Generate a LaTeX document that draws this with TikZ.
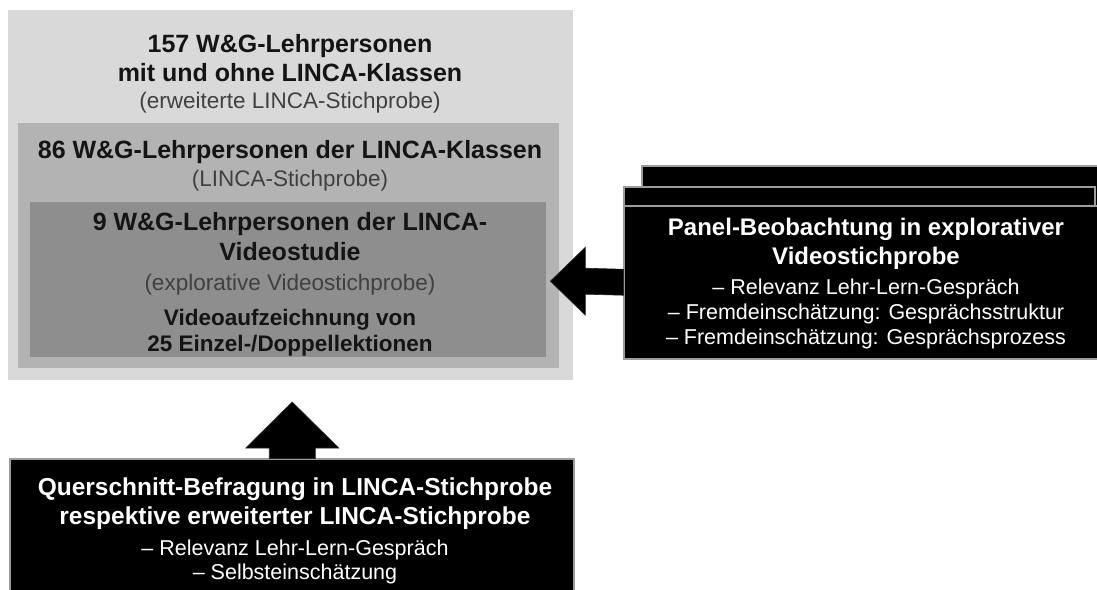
\documentclass[tikz,border=0pt]{standalone}
\usepackage{fontspec}
\setmainfont{Liberation Sans}
\usetikzlibrary{calc}
\definecolor{outerg}{HTML}{D9D9D9}
\definecolor{midg}{HTML}{B3B3B3}
\definecolor{innerg}{HTML}{8E8E8E}
\definecolor{edgeg}{HTML}{9C9C9C}
\begin{document}
\begin{tikzpicture}[x=1pt,y=-1pt,
  greybox/.style={fill=#1, draw=none, inner sep=0, anchor=north west},
  blackbox/.style={fill=black, draw=edgeg, line width=1.5pt, inner sep=0, anchor=north west},
  boldL/.style={font=\fontsize{25}{30}\selectfont\bfseries, text=black!92, inner sep=0, anchor=base},
  boldM/.style={font=\fontsize{22.5}{27}\selectfont\bfseries, text=black!92, inner sep=0, anchor=base},
  parenL/.style={font=\fontsize{22.5}{27}\selectfont, text=black!75, inner sep=0, anchor=base},
  boldW/.style={font=\fontsize{24}{29}\selectfont\bfseries, text=white, inner sep=0, anchor=base},
  regW/.style={font=\fontsize{21.5}{26}\selectfont, text=white, inner sep=0, anchor=base},
  blockarrow/.style={fill=black, draw=black!85, line width=0.6pt, line join=miter}
]
\useasboundingbox[fill=white] (0,0) rectangle (1097,589);

% nested grey boxes
\node[greybox=outerg, minimum width=565pt, minimum height=370pt] (outer) at (8,10) {};
\node[greybox=midg, minimum width=541pt, minimum height=245pt] (middle) at (18,123) {};
\node[greybox=innerg, minimum width=516pt, minimum height=155pt] (inner) at (30,202) {};

% text of the grey boxes
\node[boldL] (t1) at (290,52) {157 W\&G-Lehrpersonen};
\node[boldL] (t2) at (290,81) {mit und ohne LINCA-Klassen};
\node[parenL] (t3) at (290,108) {(erweiterte LINCA-Stichprobe)};
\node[boldL] (t4) at (290,158) {86 W\&G-Lehrpersonen der LINCA-Klassen};
\node[parenL] (t5) at (290,186) {(LINCA-Stichprobe)};
\node[boldL] (t6) at (290,230) {9 W\&G-Lehrpersonen der LINCA-};
\node[boldL] (t7) at (290,260) {Videostudie};
\node[parenL] (t8) at (290,290) {(explorative Videostichprobe)};
\node[boldM] (t9) at (290,325) {Videoaufzeichnung von};
\node[boldM] (t10) at (290,351) {25 Einzel-/Doppellektionen};

% stacked black boxes on the right
\node[blackbox, minimum width=470pt, minimum height=60pt] (panelback) at (641,165) {};
\node[blackbox, minimum width=471pt, minimum height=60pt] (panelmid) at (623,186) {};
\node[blackbox, minimum width=480pt, minimum height=153pt] (panel) at (623,205) {};

\node[boldW] (p1) at (866,235) {Panel-Beobachtung in explorativer};
\node[boldW] (p2) at (866,264) {Videostichprobe};
\node[regW] (p3) at (866,294) {– Relevanz Lehr-Lern-Gespräch};
\node[regW] (p4) at (866,319) {– Fremdeinschätzung: Gesprächsstruktur};
\node[regW] (p5) at (866,344) {– Fremdeinschätzung: Gesprächsprozess};

% bottom black box
\node[blackbox, minimum width=564pt, minimum height=140pt] (survey) at (9,458) {};
\node[boldW, font=\fontsize{24.5}{29}\selectfont\bfseries] (s1) at (295,495) {Querschnitt-Befragung in LINCA-Stichprobe};
\node[boldW, font=\fontsize{24.5}{29}\selectfont\bfseries] (s2) at (295,524) {respektive erweiterter LINCA-Stichprobe};
\node[regW] (s3) at (295,555) {– Relevanz Lehr-Lern-Gespräch};
\node[regW] (s4) at (295,579) {– Selbsteinschätzung};

% left block arrow: panel -> inner
\coordinate (ltip) at ($(inner.east)+(4,1.5)$);
\fill[blockarrow] (ltip) -- ++(35,-34) -- ++(0,21)
  -- ($(panel.west)+(0.5,-13)$) -- ($(panel.west)+(0.5,13)$)
  -- ($(ltip)+(35,13)$) -- ++(0,21) -- cycle;

% up block arrow: survey -> outer
\coordinate (utip) at ($(survey.north)+(0.5,-56)$);
\fill[blockarrow] (utip) -- ++(46.5,46) -- ++(-23.5,0)
  -- ($(survey.north)+(23.5,0.5)$) -- ($(survey.north)+(-22.5,0.5)$)
  -- ($(utip)+(-23,46)$) -- ++(-23.5,0) -- cycle;
\end{tikzpicture}
\end{document}
